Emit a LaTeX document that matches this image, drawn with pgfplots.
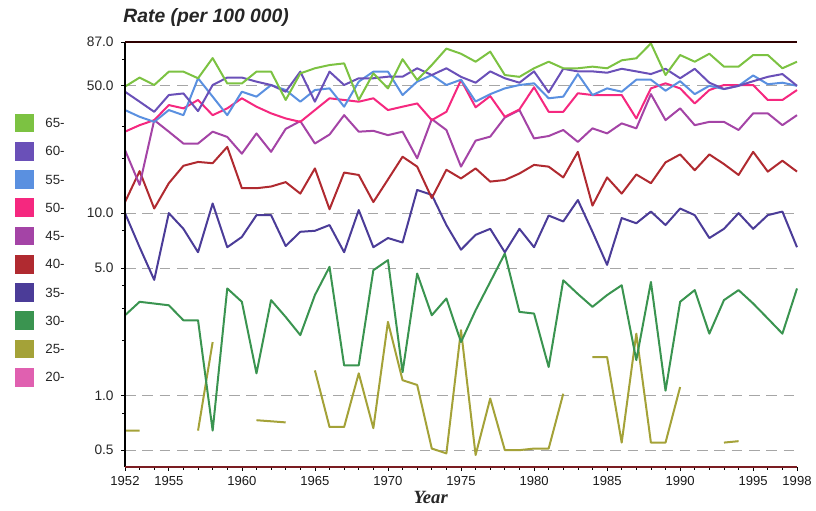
\documentclass[border=0pt]{standalone}
\usepackage{fontspec}
\setmainfont{Liberation Sans}
\newfontfamily\serifbi{Liberation Serif}
\usepackage{pgfplots}
\usepackage{pgfplotstable}
\pgfplotsset{compat=1.18}
\definecolor{c65}{HTML}{7CC242}
\definecolor{c60}{HTML}{6A50B8}
\definecolor{c55}{HTML}{5A90E0}
\definecolor{c50}{HTML}{F5287F}
\definecolor{c45}{HTML}{A444A6}
\definecolor{c40}{HTML}{B02A30}
\definecolor{c35}{HTML}{4B3C98}
\definecolor{c30}{HTML}{3A9450}
\definecolor{c25}{HTML}{A4A238}
\definecolor{c20}{HTML}{E060B0}
\pgfplotstableread{
year a65 a60 a55 a50 a45 a40 a35 a30 a25
1952 49.5 46.4 36.8 28.0 22.2 11.5 10.0 2.75 0.64
1953 55.5 40.9 33.8 30.4 14.3 17.0 6.5 3.26 0.64
1954 50.5 36.0 31.7 32.4 32.4 10.6 4.3 3.19 nan
1955 59.8 44.5 36.8 39.2 28.0 14.6 10.0 3.12 nan
1956 59.8 45.4 34.5 37.6 24.1 18.2 8.2 2.58 nan
1957 55.0 36.3 55.0 41.8 24.1 19.1 6.1 2.58 0.64
1958 71.0 50.5 43.6 34.5 28.0 18.8 11.3 0.64 1.96
1959 51.5 55.5 34.5 37.6 26.2 23.1 6.5 3.86 nan
1960 51.5 55.5 46.4 42.7 21.2 13.7 7.4 3.26 nan
1961 59.8 52.7 43.6 38.4 27.4 13.7 9.75 1.32 0.73
1962 59.8 50.5 50.5 35.3 21.7 14.0 9.75 3.33 0.72
1963 41.8 46.4 47.4 33.1 29.0 14.8 6.6 2.69 0.71
1964 58.5 59.8 40.9 31.7 32.0 12.8 7.9 2.14 nan
1965 62.4 40.9 47.4 36.8 24.1 17.6 8.0 3.55 1.37
1966 65.0 59.8 48.4 42.7 27.0 10.5 8.6 5.07 0.67
1967 66.4 50.5 38.4 41.8 34.5 16.7 6.1 1.46 0.67
1968 41.8 55.0 52.7 40.9 28.0 16.2 10.4 1.46 1.32
1969 58.5 55.0 59.8 42.7 28.3 11.5 6.5 4.86 0.66
1970 48.4 56.1 59.8 36.8 26.8 15.3 7.3 5.52 2.53
1971 70.0 56.1 44.5 38.4 28.0 20.4 6.9 1.34 1.21
1972 53.8 62.4 52.7 40.0 20.0 18.0 13.4 4.66 1.14
1973 65.0 57.3 57.3 32.4 32.8 12.1 12.6 2.75 0.51
1974 80.0 62.4 50.5 36.0 28.6 17.3 8.6 3.40 0.48
1975 75.0 56.0 54.0 53.8 18.0 15.5 6.3 1.96 2.28
1976 67.8 52.0 41.0 38.1 25.0 17.6 7.6 2.93 0.47
1977 77.0 60.0 45.0 43.9 26.3 14.9 8.2 4.19 0.96
1978 57.3 55.0 48.4 33.8 33.5 15.2 6.1 6.0 0.50
1979 56.0 52.0 50.5 37.1 36.8 16.5 8.2 2.87 0.50
1980 62.4 60.0 51.6 49.1 25.7 18.4 6.5 2.81 0.51
1981 67.8 46.0 42.7 36.0 26.5 18.0 9.7 1.43 0.51
1982 62.4 62.0 43.6 36.0 28.6 15.7 9.0 4.28 1.02
1983 62.4 60.0 58.0 45.5 24.6 21.7 11.8 3.6 nan
1984 63.7 60.0 44.5 44.5 29.2 11.0 7.9 3.06 1.62
1985 62.4 59.0 48.4 44.5 27.4 15.7 5.2 3.55 1.62
1986 69.0 62.0 46.4 44.5 31.1 12.8 9.4 4.02 0.55
1987 70.8 60.0 54.0 33.1 29.2 16.3 8.8 1.56 2.18
1988 85.5 58.0 54.0 48.4 45.0 14.6 10.2 4.19 0.55
1989 57.3 62.0 47.0 51.6 32.4 19.0 8.6 1.06 0.55
1990 73.8 55.0 53.0 48.4 37.6 21.0 10.6 3.26 1.11
1991 67.8 62.0 45.0 40.0 30.4 17.2 9.75 3.78 nan
1992 75.0 52.0 50.0 47.4 31.7 21.0 7.3 2.18 nan
1993 63.7 48.0 48.0 50.5 31.7 18.6 8.2 3.33 0.55
1994 63.7 50.0 50.0 50.5 28.6 16.2 10.0 3.78 0.56
1995 73.8 53.0 57.0 50.5 35.3 21.7 8.2 3.19 nan
1996 73.8 56.0 51.0 41.8 35.3 16.9 9.75 2.64 nan
1997 62.4 58.0 52.0 41.8 30.4 19.4 10.2 2.18 nan
1998 67.8 50.0 50.0 47.4 34.5 16.9 6.5 3.86 nan
}\rates
\begin{document}
\begin{tikzpicture}
\path[use as bounding box] (0pt,0pt) rectangle (612pt,382.5pt);
\begin{axis}[
  at={(93.75pt,32.25pt)}, anchor=south west,
  scale only axis, width=504pt, height=318.75pt,
  xmin=1952, xmax=1998, ymode=log, ymin=0.404, ymax=87,
  clip=false,
  axis line style={draw=none},
  xtick={1952,1955,1960,1965,1970,1975,1980,1985,1990,1995,1998},
  xticklabels={\mbox{1952},\mbox{1955},\mbox{1960},\mbox{1965},\mbox{1970},\mbox{1975},\mbox{1980},\mbox{1985},\mbox{1990},\mbox{1995},\mbox{1998}},
  minor xtick={1952,1953,...,1998},
  ytick={0.5,1,5,10,50,87},
  yticklabels={\mbox{0.5},\mbox{1.0},\mbox{5.0},\mbox{10.0},\mbox{50.0},\mbox{87.0}},
  minor ytick={0.8,2,3,4,8,20,30,70},
  ymajorgrids,
  major grid style={black!35, dash pattern=on 8pt off 5pt, line width=0.5pt},
  xtick pos=bottom, ytick pos=left,
  tick align=outside, major tick length=3pt, minor tick length=2pt,
  tick style={black, line width=0.5pt},
  yticklabel style={font=\fontsize{10.3}{12}\selectfont, text=black!85, xshift=-2pt},
  xticklabel style={font=\fontsize{9.8}{12}\selectfont, text=black!90, yshift=-0.5pt},
  every axis plot/.append style={line width=1.5pt, mark=none, line join=round},
]
\addplot[c25, unbounded coords=jump] table[x=year,y=a25] {\rates};
\addplot[c30] table[x=year,y=a30] {\rates};
\addplot[c35] table[x=year,y=a35] {\rates};
\addplot[c40] table[x=year,y=a40] {\rates};
\addplot[c45] table[x=year,y=a45] {\rates};
\addplot[c50] table[x=year,y=a50] {\rates};
\addplot[c55] table[x=year,y=a55] {\rates};
\addplot[c60] table[x=year,y=a60] {\rates};
\addplot[c65] table[x=year,y=a65] {\rates};
\draw[black, line width=0.9pt] (rel axis cs:0,0) -- (rel axis cs:0,1);
\draw[black!70!red!60!black, line width=0.9pt] (rel axis cs:0,1) -- (rel axis cs:1,1);
\draw[c40!70!black, line width=1pt] (rel axis cs:0,0) -- (rel axis cs:1,0);
\end{axis}
\node[anchor=west, font=\bfseries\itshape\fontsize{14.5}{17}\selectfont, black!85] at (89pt,369pt) {Rate (per 100 000)};
\node[font=\serifbi\bfseries\itshape\fontsize{14}{16}\selectfont, black!85] at (323pt,9.5pt) {Year};
\foreach \c/\l [count=\k from 0] in {c65/65-,c60/60-,c55/55-,c50/50-,c45/45-,c40/40-,c35/35-,c30/30-,c25/25-,c20/20-}{
  \fill[\c] (11.25pt,{290.25pt-21.19pt*\k-7.1pt}) rectangle ++(14.2pt,14.2pt);
  \node[anchor=west, font=\fontsize{10}{12}\selectfont, black!85] at (30.5pt,{290.25pt-21.19pt*\k}) {\l};
}
\end{tikzpicture}
\end{document}
